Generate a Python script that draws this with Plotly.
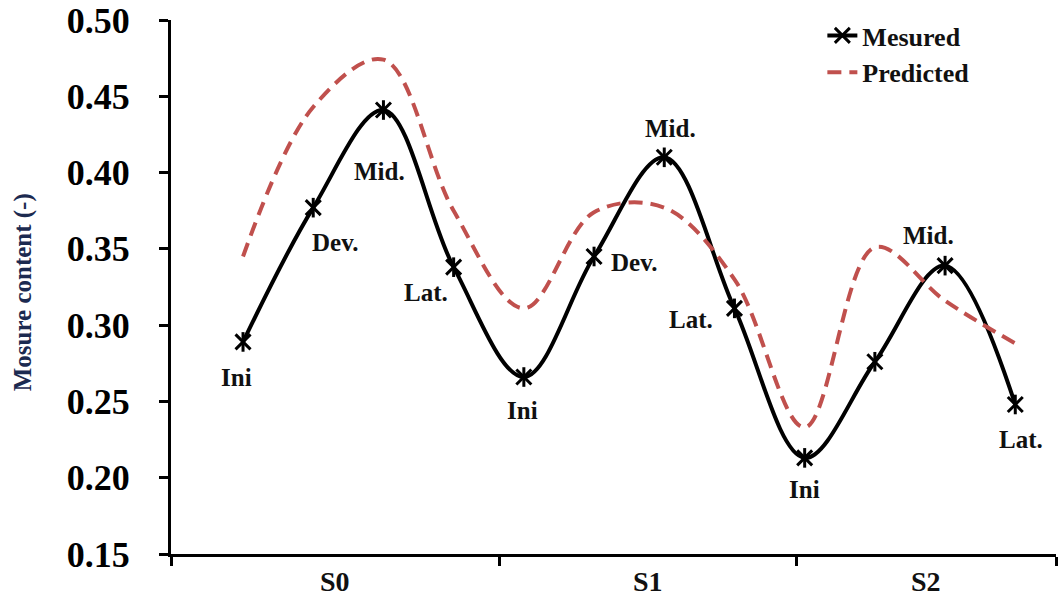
import plotly.graph_objects as go

# ---------------- data ----------------
stages = ["S0", "S1", "S2"]
point_index = [1, 2, 3, 4, 5, 6, 7, 8, 9, 10, 11, 12]
phase_labels = ["Ini", "Dev.", "Mid.", "Lat.",
                "Ini", "Dev.", "Mid.", "Lat.",
                "Ini", "", "Mid.", "Lat."]
measured = [0.289, 0.377, 0.441, 0.338,
            0.266, 0.345, 0.410, 0.311,
            0.213, 0.276, 0.339, 0.248]
predicted = [0.345, 0.443, 0.474, 0.375,
             0.311, 0.374, 0.377, 0.330,
             0.233, 0.351, 0.316, 0.288]
stage_bounds = [-0.026, 4.66, 8.89, 12.58]
y_ticks = [0.15, 0.20, 0.25, 0.30, 0.35, 0.40, 0.45, 0.50]

# ---------------- layout helpers ----------------
label_shift = [(-7, -36), (22, -35), (-4, -61), (-28, -25),
               (-1, -33), (40, -6), (6, 29), (-43, -11),
               (0, -32), (0, 0), (-17, 30), (6, -35)]

FONT = "Liberation Serif"

fig = go.Figure()

fig.add_trace(go.Scatter(
    x=point_index, y=measured, name="Mesured",
    mode="lines+markers",
    line=dict(color="black", width=4, shape="spline", smoothing=1.0),
    marker=dict(symbol="x-thin-open", size=15, color="black",
                line=dict(color="black", width=3)),
))
fig.add_trace(go.Scatter(
    x=point_index, y=measured, showlegend=False, hoverinfo="skip",
    mode="markers",
    marker=dict(symbol="line-ns-open", size=14, color="black",
                line=dict(color="black", width=3)),
))
fig.add_trace(go.Scatter(
    x=point_index, y=predicted, name="Predicted",
    mode="lines",
    line=dict(color="#C0504D", width=4, shape="spline", smoothing=1.0,
              dash="14px,8px"),
))

annotations = []
for xi, yi, txt, (dx, dy) in zip(point_index, measured, phase_labels, label_shift):
    if not txt:
        continue
    annotations.append(dict(
        x=xi, y=yi, xref="x", yref="y", text=txt, showarrow=False,
        xshift=dx, yshift=dy,
        font=dict(family=FONT, size=25, color="#111111", weight="bold"),
    ))

for i, s in enumerate(stages):
    annotations.append(dict(
        x=(stage_bounds[i] + stage_bounds[i + 1]) / 2, y=0,
        xref="x", yref="paper", text=s, showarrow=False,
        yshift=-27, yanchor="middle",
        font=dict(family=FONT, size=28, color="#111111", weight="bold"),
    ))

annotations.append(dict(
    x=0, y=0.49, xref="paper", yref="paper", text="Mosure content (-)",
    showarrow=False, textangle=-90, xshift=-148, xanchor="center",
    yanchor="middle",
    font=dict(family=FONT, size=25, color="#1c2a50", weight="bold"),
))

fig.update_layout(
    width=1058, height=603,
    margin=dict(l=171, r=2, t=20, b=49),
    paper_bgcolor="white", plot_bgcolor="white",
    showlegend=True,
    legend=dict(x=0.736, y=1.015, xanchor="left", yanchor="top",
                bgcolor="rgba(0,0,0,0)",
                font=dict(family=FONT, size=26, color="#111111", weight="bold"),
                tracegroupgap=0),
    annotations=annotations,
    xaxis=dict(range=[stage_bounds[0], stage_bounds[-1]],
               showgrid=False, zeroline=False,
               showline=True, linecolor="black", linewidth=3,
               ticks="outside", ticklen=9, tickwidth=3, tickcolor="black",
               tickvals=stage_bounds, ticktext=["" for _ in stage_bounds]),
    yaxis=dict(range=[0.15, 0.50], tickvals=y_ticks,
               ticktext=[f"{v:.2f}" for v in y_ticks],
               showgrid=False, zeroline=False,
               showline=True, linecolor="black", linewidth=3,
               ticks="outside", ticklen=9, tickwidth=3, tickcolor="black",
               ticklabelstandoff=22,
               tickfont=dict(family=FONT, size=36, color="black", weight="bold")),
)

fig.write_html("out.html")
